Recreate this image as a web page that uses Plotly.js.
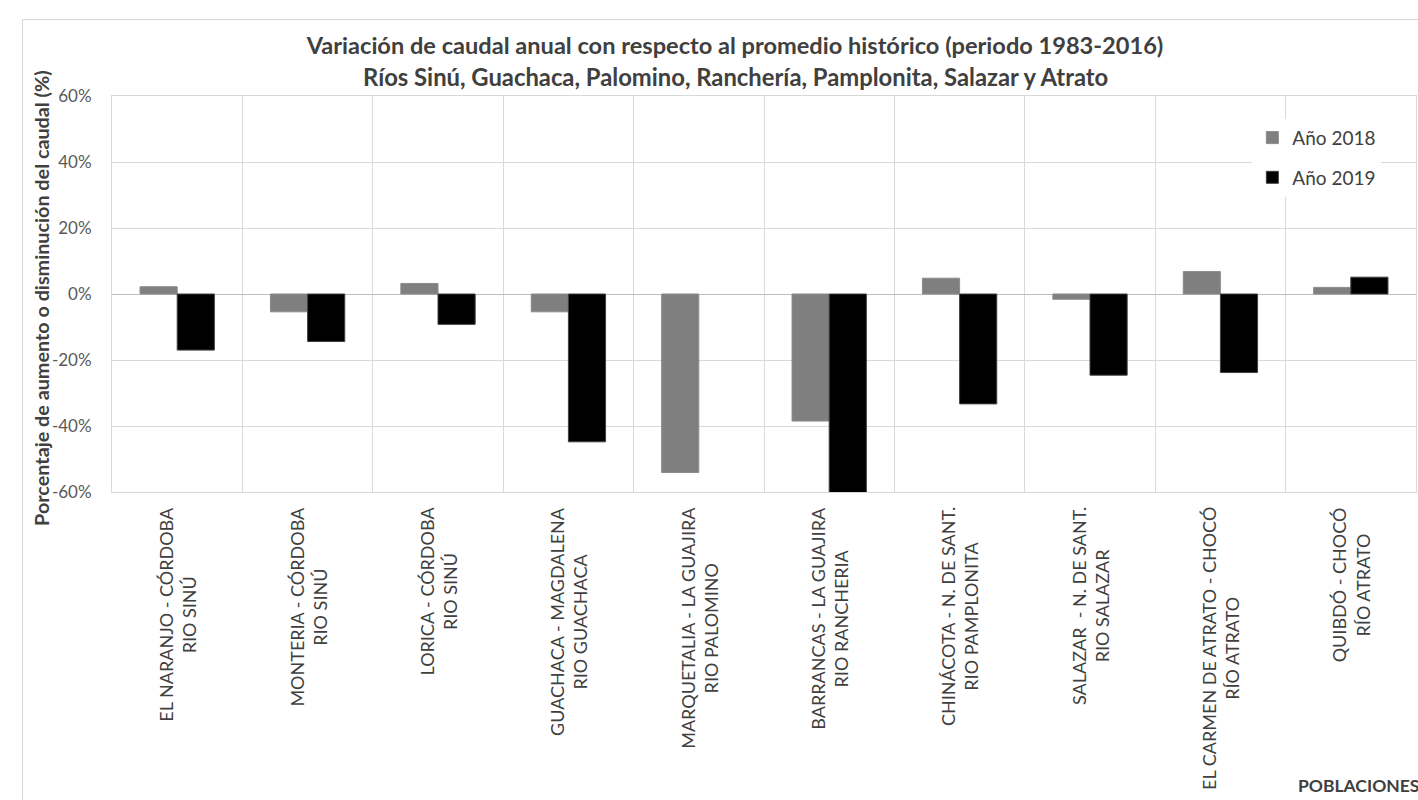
<!DOCTYPE html>
<html>
<head>
<meta charset="utf-8">
<script src="https://cdn.plot.ly/plotly-3.0.1.min.js"></script>
<style>
  html, body { margin: 0; padding: 0; background: #ffffff; overflow: hidden; width: 1418px; height: 800px; }
  #chart { position: absolute; left: 22px; top: 19px; width: 1424px; height: 800px; border: 1px solid #d9d9d9; background: #ffffff; }
</style>
</head>
<body>
<div id="chart"></div>
<script>
// ---- Data ----
const categories = [
  "EL NARANJO - CÓRDOBA<br>RIO SINÚ",
  "MONTERIA - CÓRDOBA<br>RIO SINÚ",
  "LORICA - CÓRDOBA<br>RIO SINÚ",
  "GUACHACA - MAGDALENA<br>RIO GUACHACA",
  "MARQUETALIA - LA GUAJIRA<br>RIO PALOMINO",
  "BARRANCAS - LA GUAJIRA<br>RIO RANCHERIA",
  "CHINÁCOTA - N. DE SANT.<br>RIO PAMPLONITA",
  "SALAZAR  - N. DE SANT.<br>RIO SALAZAR",
  "EL CARMEN DE ATRATO - CHOCÓ<br>RÍO ATRATO",
  "QUIBDÓ - CHOCÓ<br>RÍO ATRATO"
];
const values2018 = [2.2, -5.4, 3.2, -5.4, -54.1, -38.5, 4.8, -1.6, 6.8, 2.0];
const values2019 = [-17.0, -14.4, -9.2, -44.8, null, -61.0, -33.3, -24.6, -23.8, 5.1];
const seriesNames = ["Año 2018", "Año 2019"];
const yTickVals = [-60, -40, -20, 0, 20, 40, 60];
const yTickText = ["-60%", "-40%", "-20%", "0%", "20%", "40%", "60%"];
const titleLine1 = "Variación de caudal anual con respecto al promedio histórico (periodo 1983-2016)";
const titleLine2 = "Ríos Sinú, Guachaca, Palomino, Ranchería, Pamplonita, Salazar y Atrato";
const yTitle = "Porcentaje de aumento o disminución del caudal (%)";
const xTitle = "POBLACIONES";

const FONT = "Lato, 'Open Sans', sans-serif";

const traces = [
  {
    type: "bar", name: seriesNames[0], x: categories, y: values2018,
    marker: { color: "#7f7f7f", line: { color: "#8c8c8c", width: 1 } },
    legendgroup: "a"
  },
  {
    type: "bar", name: seriesNames[1], x: categories, y: values2019,
    marker: { color: "#000000", line: { color: "#404040", width: 1 } },
    legendgroup: "b"
  }
];

const annotations = categories.map(c => ({
  text: c, x: c, xref: "x", y: 0, yref: "paper", yshift: -13,
  xanchor: "center", yanchor: "top", textangle: -90, align: "center",
  showarrow: false, font: { family: FONT, size: 18, color: "#404040" }
}));
annotations.push({
  text: "<b>" + titleLine2 + "</b>", xref: "paper", yref: "paper",
  x: 0.4778, y: 1.048, xanchor: "center", yanchor: "middle", showarrow: false,
  font: { family: FONT, size: 23.8, color: "#404040" }
});
annotations.push({
  text: "<b>" + xTitle + "</b>", xref: "paper", yref: "paper",
  x: 0.9080, y: -0.74, xanchor: "left", yanchor: "middle", showarrow: false,
  font: { family: FONT, size: 17.5, color: "#404040" }
});
annotations.push({
  text: "<b>" + yTitle + "</b>", xref: "paper", yref: "paper",
  x: -0.0545, y: 0.49, xanchor: "center", yanchor: "middle", textangle: -90, showarrow: false,
  font: { family: FONT, size: 19.8, color: "#404040" }
});

const layout = {
  width: 1424, height: 800,
  margin: { l: 89, r: 31, t: 76, b: 328 },
  paper_bgcolor: "#ffffff", plot_bgcolor: "#ffffff",
  font: { family: FONT, color: "#595959" },
  title: {
    text: "<b>" + titleLine1 + "</b>",
    x: 0.5, xref: "container", xanchor: "center",
    y: 1 - 26 / 800, yref: "container", yanchor: "middle",
    font: { family: FONT, size: 23.6, color: "#404040" }
  },
  barmode: "group", bargap: 0.43, bargroupgap: 0,
  xaxis: {
    type: "category", tickson: "boundaries", showticklabels: false, ticks: "",
    showgrid: true, gridcolor: "#d9d9d9", gridwidth: 1,
    showline: true, linecolor: "#d9d9d9", linewidth: 1, mirror: true,
    range: [-0.5, 9.5], fixedrange: true
  },
  yaxis: {
    range: [-60, 60], tickmode: "array", tickvals: yTickVals, ticktext: yTickText,
    showgrid: true, gridcolor: "#d9d9d9", gridwidth: 1,
    zeroline: true, zerolinecolor: "#bfbfbf", zerolinewidth: 1,
    showline: true, linecolor: "#d9d9d9", linewidth: 1, mirror: true,
    ticks: "", ticklabelstandoff: 16,
    tickfont: { family: FONT, size: 17, color: "#595959" },
    fixedrange: true
  },
  showlegend: true,
  legend: {
    x: 0.8745, y: 0.9425, xanchor: "left", yanchor: "top",
    bgcolor: "#ffffff", borderwidth: 0,
    traceorder: "grouped", tracegroupgap: 12,
    font: { family: FONT, size: 19, color: "#404040" }
  },
  annotations: annotations
};

Plotly.newPlot("chart", traces, layout, { displayModeBar: false, staticPlot: true });
</script>
</body>
</html>
